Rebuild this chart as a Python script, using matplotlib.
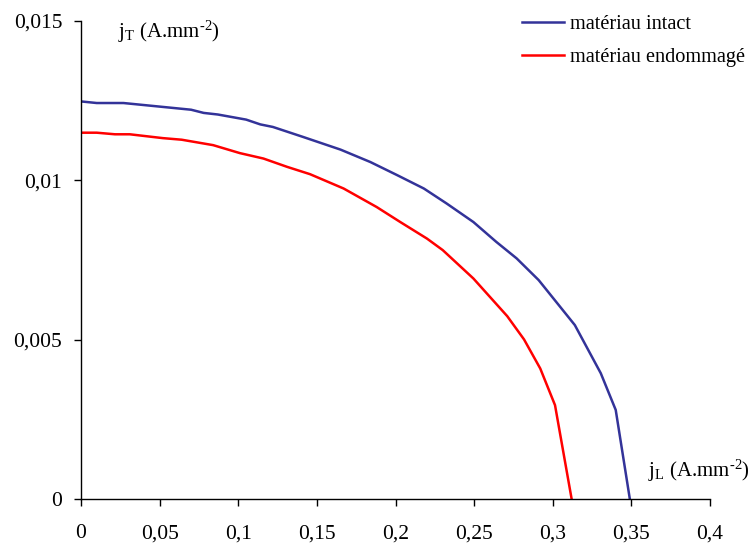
import matplotlib.pyplot as plt

# Data (j_L in A.mm-2, j_T in A.mm-2)
jl_intact = [0, 0.010, 0.027, 0.070, 0.078, 0.087, 0.105, 0.114, 0.122, 0.141,
             0.165, 0.184, 0.201, 0.218, 0.2325, 0.2495, 0.264, 0.277, 0.291,
             0.314, 0.3305, 0.340, 0.349]
jt_intact = [0.01247, 0.01242, 0.01242, 0.01221, 0.01211, 0.01206, 0.0119, 0.01175,
             0.01167, 0.01136, 0.01096, 0.01057, 0.01016, 0.00974, 0.00927, 0.00869,
             0.00807, 0.00755, 0.00687, 0.00546, 0.00395, 0.0028, 0.0]

jl_damaged = [0, 0.010, 0.0216, 0.031, 0.052, 0.064, 0.084, 0.101, 0.116, 0.131,
              0.1456, 0.167, 0.188, 0.203, 0.220, 0.230, 0.2495, 0.271, 0.2817,
              0.292, 0.3014, 0.312]
jt_damaged = [0.01149, 0.01149, 0.01144, 0.01144, 0.01132, 0.01127, 0.0111, 0.01085,
              0.01068, 0.01042, 0.01019, 0.00974, 0.00916, 0.00869, 0.00817, 0.00781,
              0.00692, 0.00574, 0.00501, 0.0041, 0.00295, 0.0]

x_ticks = [0, 0.05, 0.1, 0.15, 0.2, 0.25, 0.3, 0.35, 0.4]
x_tick_labels = ["0", "0,05", "0,1", "0,15", "0,2", "0,25", "0,3", "0,35", "0,4"]
y_ticks = [0, 0.005, 0.01, 0.015]
y_tick_labels = ["0", "0,005", "0,01", "0,015"]


def main():
    plt.rcParams["font.family"] = "Liberation Serif"
    plt.rcParams["mathtext.fontset"] = "custom"
    plt.rcParams["mathtext.rm"] = "Liberation Serif"
    plt.rcParams["mathtext.it"] = "Liberation Serif:italic"

    fig = plt.figure(figsize=(7.53, 5.45), dpi=100)
    ax = fig.add_axes([0.1076, 0.0839, 0.8354, 0.8781])

    ax.plot(jl_intact, jt_intact, color="#333399", lw=1.8, label="matériau intact")
    ax.plot(jl_damaged, jt_damaged, color="#FF0000", lw=1.8, label="matériau endommagé")

    ax.set_xlim(0, 0.4)
    ax.set_ylim(0, 0.015)
    ax.set_xticks(x_ticks)
    ax.set_xticklabels(x_tick_labels)
    ax.set_yticks(y_ticks)
    ax.set_yticklabels(y_tick_labels)
    ax.tick_params(axis="both", direction="out", length=5, width=1, labelsize=15.5)
    ax.tick_params(axis="y", pad=8.5)
    ax.tick_params(axis="x", pad=13)

    for side in ["top", "right"]:
        ax.spines[side].set_visible(False)
    for side in ["left", "bottom"]:
        ax.spines[side].set_linewidth(1)

    # axis titles placed inside the plot, as in the original
    ax.text(0.059, 1.005, r"j$_\mathrm{T}$ (A.mm$^{\text{-2}}$)", transform=ax.transAxes,
            fontsize=15, va="top", ha="left")
    ax.text(1.063, 0.032, r"j$_\mathrm{L}$ (A.mm$^{\text{-2}}$)", transform=ax.transAxes,
            fontsize=15, va="bottom", ha="right")

    ax.legend(loc="upper left", bbox_to_anchor=(0.672, 1.05), frameon=False,
              fontsize=14.6, handlelength=2.05, handletextpad=0.3, labelspacing=0.66)

    fig.savefig("out.png", dpi=100)


if __name__ == "__main__":
    main()
